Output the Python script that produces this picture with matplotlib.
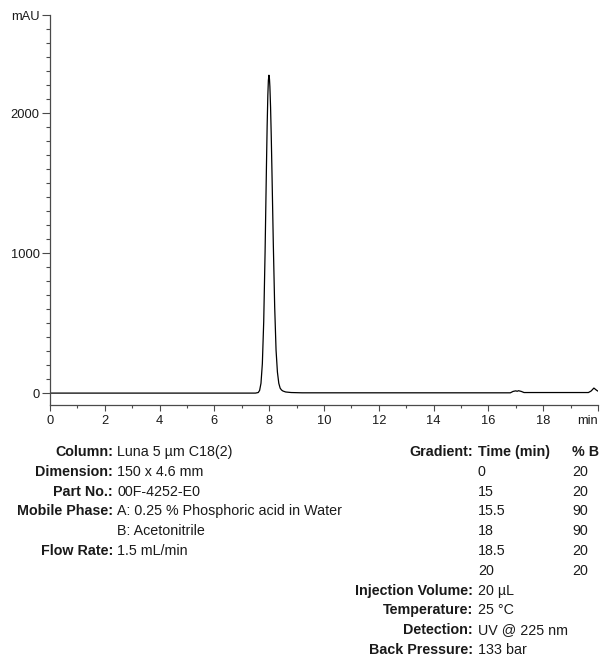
"""Luna C18(2) chromatogram -> out.png"""
import matplotlib.pyplot as plt
from matplotlib.ticker import FixedLocator

plt.rcParams["font.family"] = ["Liberation Sans", "DejaVu Sans"]

W, H = 601, 658

# trace (min, mAU)
TIME = [0.0, 7.5, 7.6, 7.65, 7.7, 7.75, 7.8, 7.85, 7.9, 7.925, 7.95, 7.97,
        7.99, 8.01, 8.025, 8.05, 8.075, 8.1, 8.15, 8.2, 8.25, 8.3, 8.35,
        8.4, 8.45, 8.5, 8.6, 8.8, 9.2, 16.8, 16.9, 17.0, 17.05, 17.1, 17.2,
        17.3, 17.4, 19.65, 19.75, 19.85, 19.95, 20.0]
SIGNAL = [0, 0, 4, 19, 70, 210, 511, 1010, 1625, 1907, 2125, 2233,
          2270, 2243, 2189, 2041, 1834, 1587, 1065, 616, 307, 150, 70,
          35, 22, 15, 8, 4, 2, 2, 12, 16, 13, 17, 12,
          4, 4, 4, 15, 36, 20, 14]

X_MAJOR = [0, 2, 4, 6, 8, 10, 12, 14, 16, 18, 20]
X_LABELS = ["0", "2", "4", "6", "8", "10", "12", "14", "16", "18", "min"]
Y_MAJOR = [0, 1000, 2000, 2700]
Y_LABELS = ["0", "1000", "2000", "mAU"]

LEFT_KEYS = ["Column:", "Dimension:", "Part No.:", "Mobile Phase:", "", "Flow Rate:"]
LEFT_VALUES = ["Luna 5 µm C18(2)", "150 x 4.6 mm", "00F-4252-E0",
               "A: 0.25 % Phosphoric acid in Water", "B: Acetonitrile", "1.5 mL/min"]
GRAD_TIME = ["0", "15", "15.5", "18", "18.5", "20"]
GRAD_B = ["20", "20", "90", "90", "20", "20"]
RIGHT_KEYS = ["Injection Volume:", "Temperature:", "Detection:", "Back Pressure:"]
RIGHT_VALUES = ["20 µL", "25 °C", "UV @ 225 nm", "133 bar"]

INK = "#1a1a1a"
AXIS = "#4a4a4a"


def put(fig, x, y, s, ha="left", bold=False):
    # x, y in picture pixels (row centre), converted to figure fraction
    fig.text(x / W, 1 - (y + 5) / H, s, ha=ha, va="baseline", fontsize=10.3,
             fontweight="bold" if bold else "normal", color=INK)


def main() -> None:
    fig = plt.figure(figsize=(W / 100, H / 100), dpi=100)
    ax = fig.add_axes([50 / W, 1 - 405 / H, 548 / W, 390 / H])

    ax.plot(TIME, SIGNAL, color="black", lw=0.9)
    ax.set_xlim(0, 20)
    ax.set_ylim(-85, 2700)

    for s in ("top", "right"):
        ax.spines[s].set_visible(False)
    for s in ("left", "bottom"):
        ax.spines[s].set_color(AXIS)
        ax.spines[s].set_linewidth(0.9)

    ax.xaxis.set_major_locator(FixedLocator(X_MAJOR))
    ax.set_xticklabels(X_LABELS)
    ax.xaxis.set_minor_locator(FixedLocator(range(1, 20, 2)))
    ax.yaxis.set_major_locator(FixedLocator(Y_MAJOR))
    ax.set_yticklabels(Y_LABELS)
    ax.yaxis.set_minor_locator(FixedLocator([v for v in range(100, 2700, 100)
                                             if v not in Y_MAJOR]))

    ax.tick_params(axis="x", which="major", length=4.2, width=0.8, pad=3,
                   color=AXIS, labelsize=9.3, labelcolor=INK)
    ax.tick_params(axis="x", which="minor", length=2.4, width=0.8, color=AXIS)
    ax.tick_params(axis="y", which="major", length=5.5, width=0.8, pad=2,
                   color=AXIS, labelsize=9.3, labelcolor=INK)
    ax.tick_params(axis="y", which="minor", length=2.8, width=0.8, color=AXIS)
    # unit label sits at the right end of the axis, kept inside the picture
    ax.get_xticklabels()[-1].set_horizontalalignment("right")

    y0, dy = 451, 19.8
    for i, (k, v) in enumerate(zip(LEFT_KEYS, LEFT_VALUES)):
        y = y0 + i * dy
        if k:
            put(fig, 113, y, k, ha="right", bold=True)
        put(fig, 117, y, v)

    put(fig, 473, y0, "Gradient:", ha="right", bold=True)
    put(fig, 478, y0, "Time (min)", bold=True)
    put(fig, 572, y0, "% B", bold=True)
    for i, (t, b) in enumerate(zip(GRAD_TIME, GRAD_B)):
        y = y0 + (i + 1) * dy
        put(fig, 478, y, t)
        put(fig, 572, y, b)

    for i, (k, v) in enumerate(zip(RIGHT_KEYS, RIGHT_VALUES)):
        y = y0 + (i + 7) * dy
        put(fig, 473, y, k, ha="right", bold=True)
        put(fig, 478, y, v)

    fig.savefig("out.png", dpi=100, facecolor="white")
    plt.close(fig)


if __name__ == "__main__":
    main()
